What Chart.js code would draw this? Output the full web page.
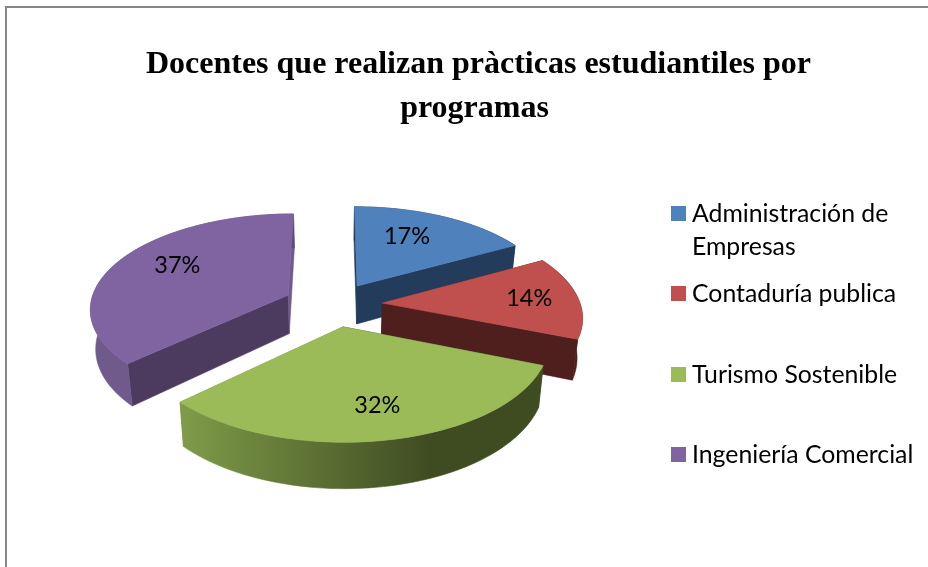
<!DOCTYPE html>
<html lang="es">
<head>
<meta charset="utf-8">
<style>html,body{margin:0;padding:0;background:#fff;overflow:hidden}canvas{display:block}</style>
<script src="https://cdn.jsdelivr.net/npm/chart.js@4"></script>
</head>
<body>
<canvas id="c" width="928" height="567"></canvas>
<script>
const titleLines = [" Docentes que realizan pràcticas estudiantiles por", "programas"];
const categories = ["Administración de Empresas", "Contaduría publica", "Turismo Sostenible", "Ingeniería Comercial"];
const percentages = [17, 14, 32, 37];
const topColors = ["#4f81bd", "#c0504d", "#9bbb59", "#8064a2"];
const sideColors = ["#243c5c", "#4f1f1e", "#3f4c22", "#4c3a5f"];
const wallLightColors = ["#243c5c", "#4f1f1e", "#7f9c49", "#6f5a8b"];
const explodeBySlice = [0.235, 0.245, 0.235, 0.255];
const labelNudges = [[-14, 2], [6, 0], [3, 0], [12, -4]];

const view = {cx: 334, cy: 304.5, a: 198, b: 94, k: 0.13, depth: 39, shrink: 0.978, labelR: 0.72};
const legendBox = {x: 671, size: 15, textX: 692, textDrop: 1, maxWidth: 240, tops: [206, 286, 367, 447], lineHeight: 33, font: "24.8px Lato", labelFont: "23.5px Lato"};

const project = (u, v, low) => {
  const s = 1 / (1 + view.k * v);
  const f = low ? view.shrink : 1;
  return [view.cx + view.a * u * s * f, view.cy - view.b * v * s + (low ? view.depth * s : 0)];
};

function sliceGeom(el, i) {
  const t0 = el.startAngle + Math.PI / 2, t1 = el.endAngle + Math.PI / 2, mid = (t0 + t1) / 2;
  const ou = explodeBySlice[i] * Math.sin(mid), ov = explodeBySlice[i] * Math.cos(mid);
  const n = Math.max(8, Math.ceil((t1 - t0) * 30));
  const rim = [];
  for (let j = 0; j <= n; j++) {
    const t = t0 + (t1 - t0) * j / n;
    rim.push([ou + Math.sin(t), ov + Math.cos(t)]);
  }
  return {mid, ou, ov, rim};
}
function poly(ctx, pts, fill) {
  ctx.beginPath();
  pts.forEach((p, i) => i ? ctx.lineTo(p[0], p[1]) : ctx.moveTo(p[0], p[1]));
  ctx.closePath();
  ctx.fillStyle = fill;
  ctx.strokeStyle = fill;
  ctx.lineWidth = 0.6;
  ctx.fill();
  ctx.stroke();
}
function wrap(ctx, text, maxW) {
  const lines = [];
  let cur = "";
  text.split(" ").forEach(w => {
    const t = cur ? cur + " " + w : w;
    if (ctx.measureText(t).width > maxW && cur) { lines.push(cur); cur = w; } else cur = t;
  });
  lines.push(cur);
  return lines;
}

const pie3d = {
  id: "pie3d",
  beforeDraw(chart) {
    const ctx = chart.ctx;
    ctx.save();
    ctx.strokeStyle = "#868686";
    ctx.lineWidth = 2;
    ctx.strokeRect(6, 7, 1000, 1000);
    ctx.restore();
  },
  beforeDatasetsDraw(chart) {
    const ctx = chart.ctx;
    const els = chart.getDatasetMeta(0).data;
    const order = els.map((el, i) => ({i, g: sliceGeom(el, i)})).sort((p, q) => q.g.ov - p.g.ov);
    ctx.save();
    order.forEach(({i, g}) => {
      const grad = ctx.createLinearGradient(180, 0, 430, 0);
      grad.addColorStop(0, wallLightColors[i]);
      grad.addColorStop(1, sideColors[i]);
      const topRim = g.rim.map(p => project(p[0], p[1], false));
      const lowRim = g.rim.map(p => project(p[0], p[1], true));
      const apexT = project(g.ou, g.ov, false), apexL = project(g.ou, g.ov, true);
      poly(ctx, [apexT, topRim[0], lowRim[0], apexL], sideColors[i]);
      poly(ctx, [apexT, topRim[topRim.length - 1], lowRim[lowRim.length - 1], apexL], wallLightColors[i]);
      poly(ctx, topRim.concat(lowRim.slice().reverse()), grad);
      poly(ctx, [apexT].concat(topRim), topColors[i]);
    });
    ctx.restore();
    return false;
  },
  afterDraw(chart) {
    const ctx = chart.ctx;
    const els = chart.getDatasetMeta(0).data;
    ctx.save();
    ctx.fillStyle = "#000";
    ctx.font = legendBox.labelFont;
    ctx.textAlign = "center";
    ctx.textBaseline = "middle";
    els.forEach((el, i) => {
      const g = sliceGeom(el, i);
      const p = project(g.ou + view.labelR * Math.sin(g.mid), g.ov + view.labelR * Math.cos(g.mid), false);
      ctx.fillText(percentages[i] + "%", p[0] + labelNudges[i][0], p[1] + labelNudges[i][1]);
    });
    ctx.font = legendBox.font;
    ctx.textAlign = "left";
    ctx.textBaseline = "alphabetic";
    categories.forEach((name, i) => {
      const y = legendBox.tops[i];
      ctx.fillStyle = topColors[i];
      ctx.fillRect(legendBox.x, y, legendBox.size, legendBox.size);
      ctx.fillStyle = "#000";
      wrap(ctx, name, legendBox.maxWidth).forEach((line, j) => {
        ctx.fillText(line, legendBox.textX, y + legendBox.size + legendBox.textDrop + j * legendBox.lineHeight);
      });
    });
    ctx.restore();
  }
};

new Chart(document.getElementById("c"), {
  type: "pie",
  data: {labels: categories, datasets: [{data: percentages, backgroundColor: topColors, borderWidth: 0}]},
  plugins: [pie3d],
  options: {
    responsive: false,
    animation: false,
    layout: {padding: {left: 21, top: 42}},
    plugins: {
      legend: {display: false},
      tooltip: {enabled: false},
      title: {
        display: true,
        text: titleLines,
        color: "#000",
        align: "center",
        font: {family: "'Liberation Serif'", size: 32, weight: "bold", lineHeight: 1.39},
        padding: 0
      }
    }
  }
});
</script>
</body>
</html>
